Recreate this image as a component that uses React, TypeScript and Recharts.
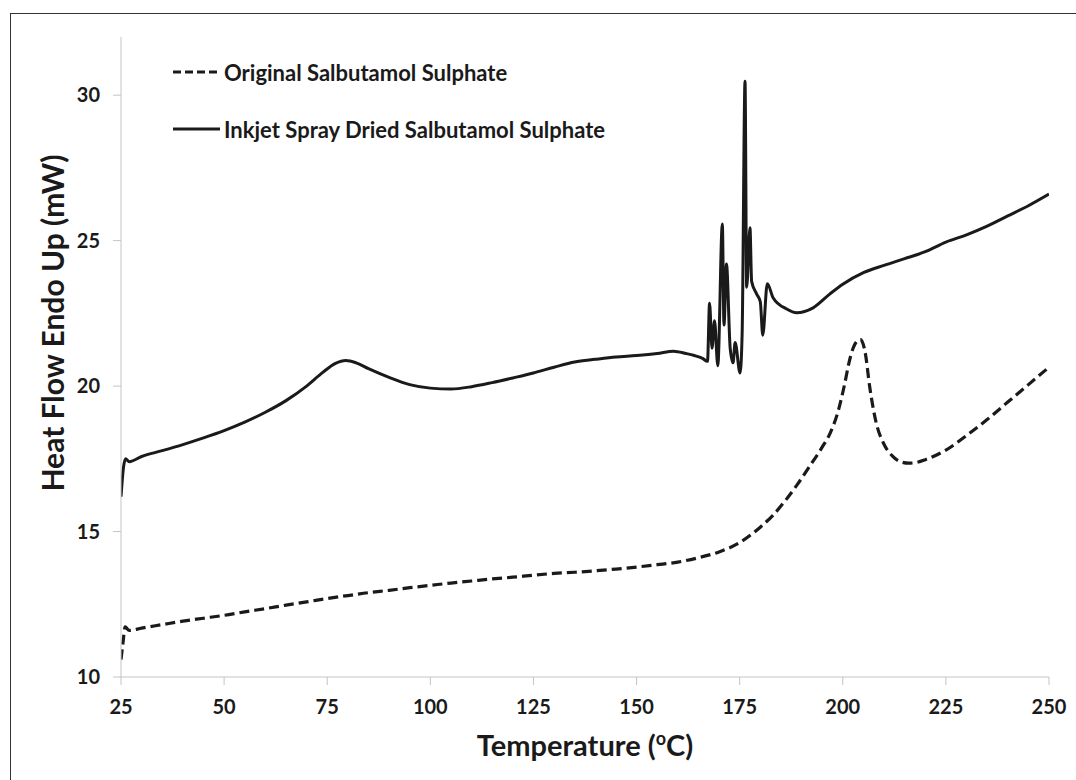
import React from 'react';
import { LineChart, Line, XAxis, YAxis, Label } from 'recharts';

const xTicks = [25, 50, 75, 100, 125, 150, 175, 200, 225, 250];
const yTicks = [10, 15, 20, 25, 30];
const seriesNames = ['Original Salbutamol Sulphate', 'Inkjet Spray Dried Salbutamol Sulphate'];
const xTitle = 'Temperature (';
const xTitleSup = 'o';
const xTitleEnd = 'C)';
const yTitle = 'Heat Flow Endo Up (mW)';

const originalTemp = [
  25.0, 25.5, 26.0, 27.0, 30, 35, 40, 45, 50, 55, 60, 65, 70, 75, 80, 85, 90, 95, 100, 105,
  110, 115, 120, 125, 130, 135, 140, 145, 150, 155, 160, 165, 170, 175, 178, 180, 183, 186,
  189, 192, 195, 197, 199, 200.5, 201.5, 202.5, 203.5, 204.3, 205.5, 206.5, 208, 210, 212, 214,
  216, 218, 220, 225, 230, 235, 240, 245, 250,
];
const originalHeat = [
  10.6, 11.2, 11.72, 11.6, 11.68, 11.8, 11.92, 12.02, 12.12, 12.24, 12.35, 12.47, 12.58, 12.7,
  12.8, 12.9, 12.98, 13.07, 13.15, 13.23, 13.3, 13.37, 13.43, 13.5, 13.56, 13.6, 13.65, 13.71,
  13.78, 13.86, 13.95, 14.1, 14.3, 14.62, 14.92, 15.15, 15.55, 16.05, 16.62, 17.25, 17.9, 18.4,
  19.2, 20.1, 20.8, 21.3, 21.55, 21.6, 21.1, 20.0, 18.8, 18.0, 17.6, 17.4, 17.35, 17.38, 17.47,
  17.8, 18.3, 18.85, 19.45, 20.05, 20.65,
];

const inkjetTemp = [
  25.0, 25.6, 26.1, 27.0, 30, 35, 40, 45, 50, 55, 60, 65, 70, 74, 77, 79.5, 82, 85, 90, 95,
  100, 105, 110, 115, 120, 125, 130, 135, 140, 145, 150, 155, 159, 162, 164, 166, 167.2, 167.7,
  168.3, 168.9, 169.7, 170.8, 171.2, 171.8, 172.7, 173.4, 173.9, 175.1, 175.6, 176.3, 176.7,
  177.5, 177.9, 179.1, 180.0, 180.6, 181.7, 183.1, 186.4, 188.8, 192.8, 196.9, 200, 205, 210,
  215, 220, 225, 230, 235, 240, 245, 250,
];
const inkjetHeat = [
  16.2, 17.2, 17.5, 17.4, 17.58, 17.78, 17.99, 18.22, 18.47, 18.76, 19.1, 19.5, 20.0, 20.48,
  20.78, 20.88, 20.8, 20.6, 20.3, 20.05, 19.93, 19.9, 19.98, 20.12, 20.28, 20.45, 20.65, 20.83,
  20.92, 21.0, 21.05, 21.12, 21.2, 21.12, 21.05, 20.95, 20.85, 22.85, 21.3, 22.25, 20.7, 25.57,
  22.1, 24.2, 21.3, 20.8, 21.5, 20.45, 21.8, 30.48, 23.4, 25.44, 23.6, 23.17, 22.9, 21.75,
  23.52, 23.04, 22.65, 22.52, 22.69, 23.17, 23.5, 23.9, 24.15, 24.38, 24.62, 24.95, 25.2, 25.5,
  25.85, 26.2, 26.6,
];

const originalData = originalTemp.map((t, i) => ({ temp: t, heat: originalHeat[i] }));
const inkjetData = inkjetTemp.map((t, i) => ({ temp: t, heat: inkjetHeat[i] }));

const FONT = 'Lato, "Open Sans", sans-serif';
const INK = '#1a1a1a';
const AXIS = '#c4c4c4';

const LegendBox = () => (
  <svg width={480} height={90} style={{ position: 'absolute', left: 173, top: 60, display: 'block' }}>
    <line x1={0} y1={12} x2={47} y2={12} stroke={INK} strokeWidth={3} strokeDasharray="8 4" />
    <text x={51} y={12} dominantBaseline="central" fontFamily={FONT} fontWeight={700} fontSize={22} fill={INK}>
      {seriesNames[0]}
    </text>
    <line x1={0} y1={69} x2={47} y2={69} stroke={INK} strokeWidth={3} />
    <text x={51} y={69} dominantBaseline="central" fontFamily={FONT} fontWeight={700} fontSize={22} fill={INK}>
      {seriesNames[1]}
    </text>
  </svg>
);

const YTitle = () => (
  <text
    x={52}
    y={323}
    transform="rotate(-90 52 323)"
    textAnchor="middle"
    dominantBaseline="central"
    fontFamily={FONT}
    fontWeight={700}
    fontSize={30}
    fill={INK}
  >
    {yTitle}
  </text>
);

const XTitle = () => (
  <text x={585} y={756} textAnchor="middle" fontFamily={FONT} fontWeight={700} fontSize={29} fill={INK}>
    {xTitle}
    <tspan fontSize={18} dy={-11}>{xTitleSup}</tspan>
    <tspan dy={11}>{xTitleEnd}</tspan>
  </text>
);

export default function App() {
  return (
    <div style={{ position: 'absolute', left: 0, top: 0, width: 1076, height: 780, background: '#fff', overflow: 'hidden' }}>
      <div
        style={{
          position: 'absolute',
          left: 10,
          top: 13,
          width: 1100,
          height: 800,
          borderLeft: '1.5px solid #333',
          borderTop: '1.5px solid #333',
        }}
      />
      <div style={{ position: 'absolute', left: 0, top: 0 }}>
        <LineChart width={1076} height={780} margin={{ top: 37, right: 27, bottom: 73, left: 61 }}>
          <XAxis
            dataKey="temp"
            type="number"
            domain={[25, 250]}
            ticks={xTicks}
            height={30}
            stroke={AXIS}
            tickSize={8}
            tickMargin={15}
            tick={{ fill: INK, fontFamily: FONT, fontWeight: 700, fontSize: 20 }}
            allowDataOverflow
          >
            <Label content={<XTitle />} />
          </XAxis>
          <YAxis
            type="number"
            domain={[10, 32]}
            ticks={yTicks}
            width={60}
            stroke={AXIS}
            tickSize={8}
            tickMargin={13}
            tick={{ fill: INK, fontFamily: FONT, fontWeight: 700, fontSize: 20 }}
            allowDataOverflow
          >
            <Label content={<YTitle />} />
          </YAxis>
          <Line
            name={seriesNames[0]}
            data={originalData}
            dataKey="heat"
            type="monotone"
            stroke={INK}
            strokeWidth={3.2}
            strokeDasharray="10 5"
            dot={false}
            activeDot={false}
            isAnimationActive={false}
          />
          <Line
            name={seriesNames[1]}
            data={inkjetData}
            dataKey="heat"
            type="monotone"
            stroke={INK}
            strokeWidth={3}
            dot={false}
            activeDot={false}
            isAnimationActive={false}
          />
        </LineChart>
      </div>
      <LegendBox />
    </div>
  );
}
